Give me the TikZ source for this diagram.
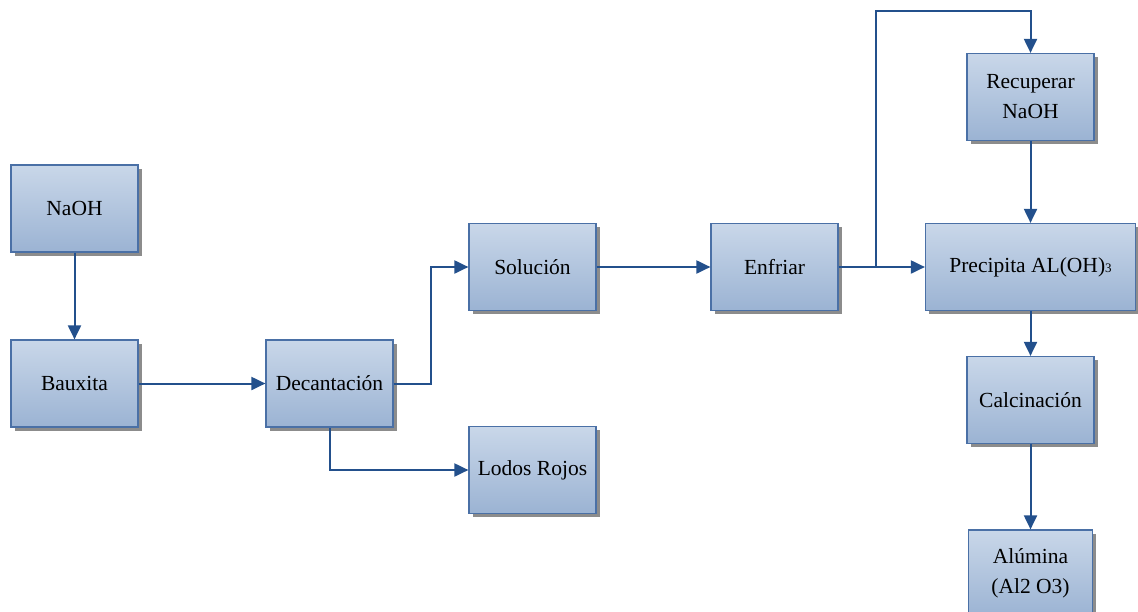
\documentclass[tikz,border=0pt]{standalone}
\usepackage{fontspec}
\setmainfont{Liberation Serif}
\usetikzlibrary{arrows.meta,shadows}
\definecolor{boxtop}{HTML}{C9D7E9}
\definecolor{boxbot}{HTML}{9BB3D3}
\definecolor{boxline}{HTML}{4A70A6}
\definecolor{arrcol}{HTML}{23508C}
\tikzset{
  box/.style={rectangle, draw=boxline, line width=1.2pt, top color=boxtop, bottom color=boxbot,
    minimum width=127pt, minimum height=87pt, inner sep=0pt, align=center,
    font=\fontsize{21.5}{30}\selectfont,
    drop shadow={shadow xshift=3.5pt, shadow yshift=-3.5pt, fill=black!45, opacity=1}},
  arr/.style={draw=arrcol, line width=2pt, -{Triangle[length=14pt,width=13pt]}},
}
\begin{document}
\begin{tikzpicture}[x=1pt,y=-1pt]
\useasboundingbox (0,0) rectangle (1138,611);
\node[box] (naoh) at (74.5,208.5) {NaOH};
\node[box] (baux) at (74.5,383.5) {Bauxita};
\node[box] (dec) at (329.5,383.5) {Decantación};
\node[box] (sol) at (532.5,267) {Solución};
\node[box] (lod) at (532.5,470) {Lodos Rojos};
\node[box] (enf) at (774.5,267) {Enfriar};
\node[box, minimum width=210pt] (pre) at (1030.5,267) {Precipita AL(OH){\fontsize{13}{13}\selectfont 3}};
\node[box] (rec) at (1030.5,97) {Recuperar\\NaOH};
\node[box] (cal) at (1030.5,400) {Calcinación};
\node[box, minimum width=124pt] (alu) at (1030.5,573.5) {Alúmina\\(Al2 O3)};
\coordinate (j1) at (431,383.5);
\coordinate (j2) at (876,267);
\coordinate (top) at (876,10.5);
\draw[arr] (naoh) -- (baux);
\draw[arr] (baux) -- (dec);
\draw[arr] (dec.east) -| (j1 |- sol.west) -- (sol.west);
\draw[arr] (dec.south) |- (lod.west);
\draw[arr] (sol) -- (enf);
\draw[arr] (enf) -- (pre);
\draw[arr] (j2) -- (top) -| (rec.north);
\draw[arr] (rec) -- (pre);
\draw[arr] (pre) -- (cal);
\draw[arr] (cal) -- (alu);
\end{tikzpicture}
\end{document}
